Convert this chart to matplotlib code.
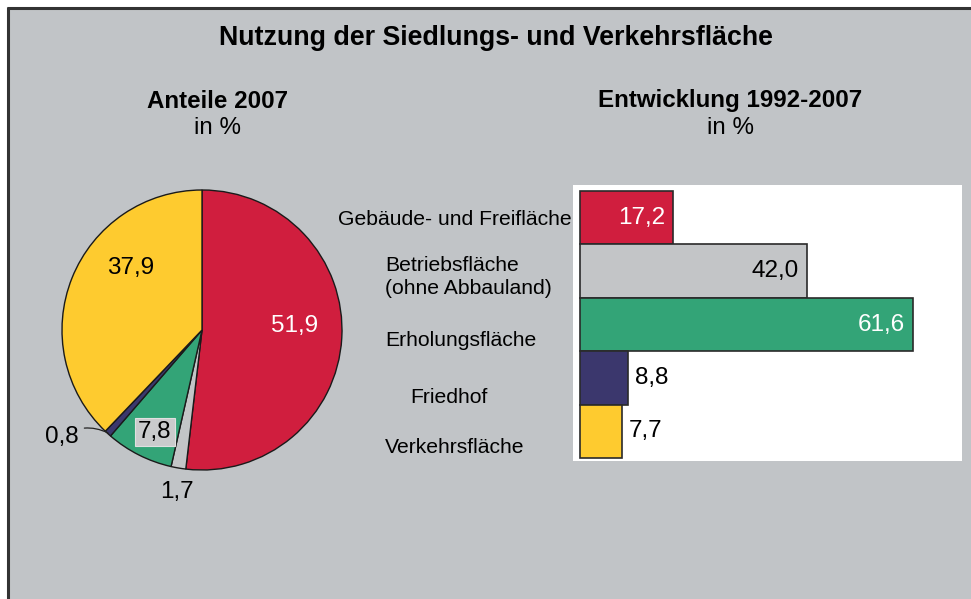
import matplotlib
matplotlib.use("Agg")
import matplotlib.pyplot as plt
from matplotlib.lines import Line2D

plt.rcParams['font.family'] = ['Liberation Sans', 'DejaVu Sans']

W, H = 971, 599
BG = '#c1c4c7'

# ---- data ----
pie_labels = ['Gebäude- und Freifläche', 'Betriebsfläche', 'Erholungsfläche', 'Friedhof', 'Verkehrsfläche']
pie_values = [51.9, 1.7, 7.8, 0.8, 37.9]
pie_texts = ['51,9', '1,7', '7,8', '0,8', '37,9']

bar_labels = ['Gebäude- und Freifläche', 'Betriebsfläche\n(ohne Abbauland)', 'Erholungsfläche', 'Friedhof', 'Verkehrsfläche']
bar_values = [17.2, 42.0, 61.6, 8.8, 7.7]
bar_texts = ['17,2', '42,0', '61,6', '8,8', '7,7']

colors = ['#d01e3e', '#c3c5c7', '#33a477', '#3b376d', '#fecb2f']

fig = plt.figure(figsize=(W / 100, H / 100), dpi=100)
fig.patch.set_facecolor('white')

def fax(x0, y0, x1, y1):
    # pixel box (top-origin) -> figure axes
    return fig.add_axes([x0 / W, 1 - y1 / H, (x1 - x0) / W, (y1 - y0) / H])

# gray panel
bgax = fax(8, 7, W, H)
bgax.set_facecolor(BG)
bgax.set_xticks([]); bgax.set_yticks([])
for s in bgax.spines.values():
    s.set_visible(False)
fig.add_artist(Line2D([7.5 / W, 7.5 / W], [0, 1 - 6.5 / H], color='#333333', lw=2.2, solid_capstyle='butt'))
fig.add_artist(Line2D([6.5 / W, 1], [1 - 7.5 / H, 1 - 7.5 / H], color='#333333', lw=2.2, solid_capstyle='butt'))

def ftext(x, y, s, **kw):
    fig.text(x / W, 1 - y / H, s, ha='center', va='center', **kw)

ftext(496, 38, 'Nutzung der Siedlungs- und Verkehrsfläche', fontsize=19.3, fontweight='bold')
ftext(217, 101, 'Anteile 2007', fontsize=17.4, fontweight='bold')
ftext(217, 128, 'in %', fontsize=17.4)
ftext(730, 101, 'Entwicklung 1992-2007', fontsize=17.4, fontweight='bold')
ftext(730, 128, 'in %', fontsize=17.4)

# ---- pie ----
cx, cy, R = 202, 330, 140
pax = fax(cx - R, cy - R, cx + R, cy + R)
pax.pie(pie_values, colors=colors, startangle=90, counterclock=False, radius=1,
        wedgeprops=dict(edgecolor='#1a1a1a', linewidth=1.0))
pax.set_xlim(-1, 1); pax.set_ylim(-1, 1)
pax.set_aspect('equal')
pax.axis('off')

fs_num = 17.5
pax.text(0.66, 0.03, pie_texts[0], color='white', fontsize=fs_num, ha='center', va='center')
pax.text(-0.51, 0.44, pie_texts[4], color='black', fontsize=fs_num, ha='center', va='center')
pax.text(-0.336, -0.73, pie_texts[2], color='black', fontsize=fs_num, ha='center', va='center',
         bbox=dict(boxstyle='square,pad=0.12', facecolor='#cacbcc', edgecolor='#e0e0e0', linewidth=0.8))
pax.text(-0.18, -1.16, pie_texts[1], color='black', fontsize=fs_num, ha='center', va='center', clip_on=False)
pax.annotate(pie_texts[3], xy=(-0.672, -0.735), xytext=(-1.0, -0.765), fontsize=fs_num,
             ha='center', va='center', annotation_clip=False,
             arrowprops=dict(arrowstyle='-', color='#222222', lw=0.9, shrinkA=2, shrinkB=0,
                             connectionstyle='arc3,rad=-0.3'))

# ---- bars ----
bx0, by0, bx1, by1 = 573, 185, 962, 461
bax = fax(bx0, by0, bx1, by1)
bax.set_facecolor('white')
scale = 5.41
bax.set_xlim(-(580 - bx0) / scale, (bx1 - 580) / scale)
unit = 53.4
bax.set_ylim(4.5 + 3 / unit, -0.5 - 6 / unit)
bax.set_xticks([]); bax.set_yticks([])
for s in bax.spines.values():
    s.set_visible(False)
ypos = list(range(len(bar_values)))
bax.barh(ypos, bar_values, height=1.0, color=colors, edgecolor='#2a2a2a', linewidth=1.2)

txt_col = ['white', 'black', 'white', 'black', 'black']
inside = [True, True, True, False, False]
for i, (v, t) in enumerate(zip(bar_values, bar_texts)):
    if inside[i]:
        bax.annotate(t, xy=(v, i), xytext=(-8, 0), textcoords='offset pixels',
                     ha='right', va='center', color=txt_col[i], fontsize=fs_num)
    else:
        bax.annotate(t, xy=(v, i), xytext=(7, 0), textcoords='offset pixels',
                     ha='left', va='center', color=txt_col[i], fontsize=fs_num)

# category labels (positions in pixels relative to bar start)
lab_off = [(-8, -2, 'right'), (-195, -6, 'left'), (-195, -16, 'left'), (-170, -20, 'left'), (-195, -16, 'left')]
for i, lab in enumerate(bar_labels):
    dx, dy, ha = lab_off[i]
    bax.annotate(lab, xy=(0, i), xytext=(dx, dy), textcoords='offset pixels',
                 ha=ha, va='center', fontsize=15.2, annotation_clip=False,
                 multialignment='left', linespacing=1.3)

fig.savefig('out.png', dpi=100, facecolor=fig.get_facecolor())
